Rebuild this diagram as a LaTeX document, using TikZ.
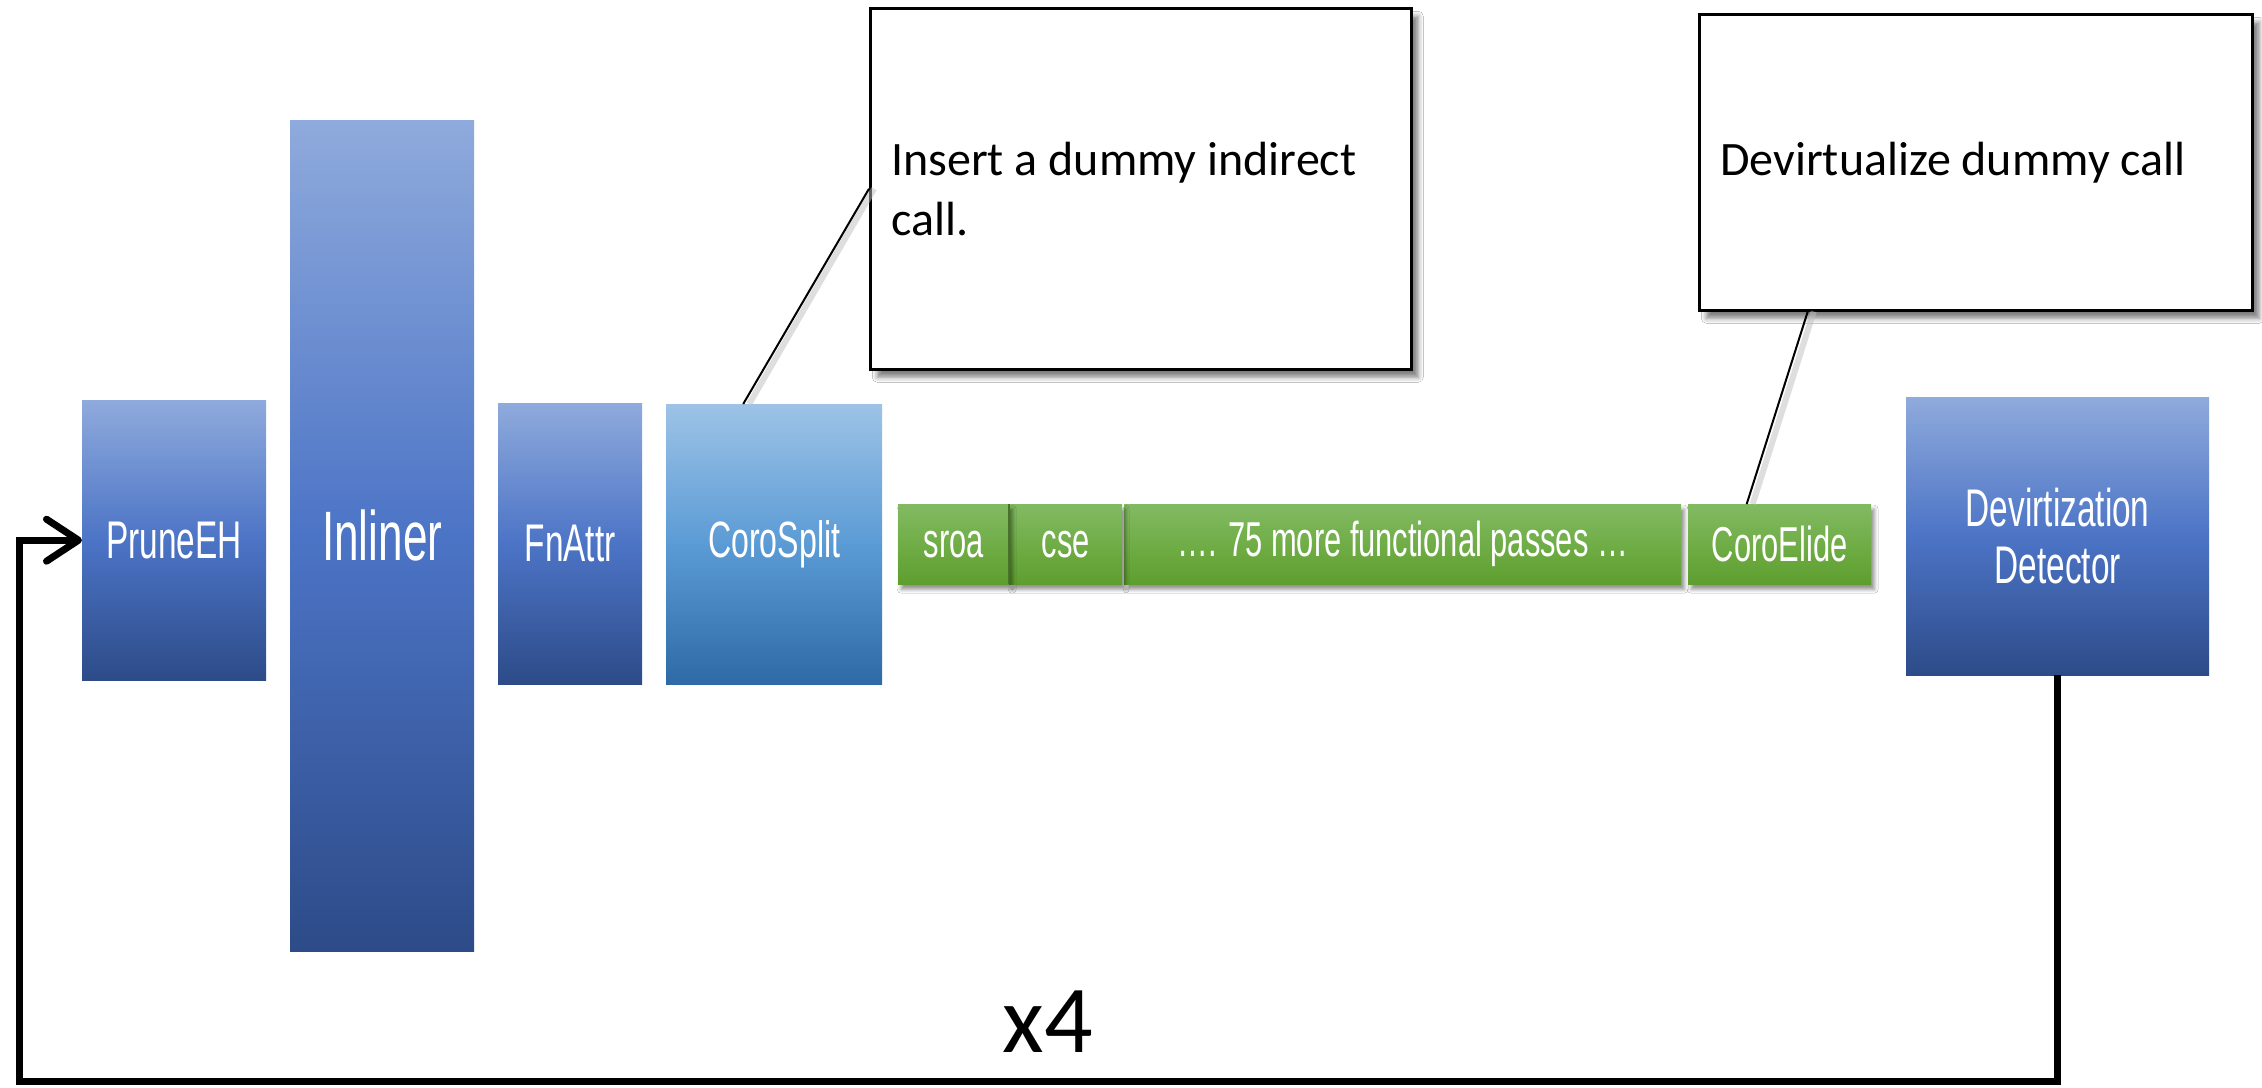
\documentclass[tikz,border=0pt]{standalone}
\usepackage{fontspec}
\usepackage{graphicx}
\usetikzlibrary{arrows.meta,shadows.blur}
\newfontfamily\condfont{Liberation Sans}
\newfontfamily\notefont{Carlito}
% narrow display face for the pass labels
\newcommand\narrow[1]{\scalebox{0.63}[1]{#1}}
\definecolor{bluetop}{RGB}{143,170,220}
\definecolor{bluemid}{RGB}{76,116,198}
\definecolor{bluebot}{RGB}{45,75,136}
\definecolor{cstop}{RGB}{157,195,230}
\definecolor{csmid}{RGB}{91,155,213}
\definecolor{csbot}{RGB}{46,106,166}
\definecolor{grtop}{RGB}{130,186,98}
\definecolor{grmid}{RGB}{112,173,71}
\definecolor{grbot}{RGB}{94,158,46}
\definecolor{grsep}{RGB}{70,115,40}
\begin{document}
\begin{tikzpicture}[x=1pt,y=-1pt,
  passbox/.style={rectangle, inner sep=0pt, anchor=north west, text=white,
    font=\condfont\fontsize{53}{57}\selectfont, align=center,
    top color=bluetop, bottom color=bluebot, middle color=bluemid},
  splitbox/.style={passbox, top color=cstop, bottom color=csbot, middle color=csmid,
    font=\condfont\fontsize{51}{55}\selectfont},
  fnbox/.style={rectangle, inner sep=0pt, anchor=north west, text=white,
    minimum height=80pt, font=\condfont\fontsize{49}{52}\selectfont,
    top color=grtop, bottom color=grbot, middle color=grmid,
    blur shadow={shadow xshift=3pt, shadow yshift=-5pt, shadow blur radius=4pt, shadow opacity=45}},
  notebox/.style={rectangle, anchor=north west, draw=black, line width=2.5pt, fill=white,
    inner xsep=21pt, inner ysep=0pt, align=flush left,
    font=\notefont\fontsize{48}{60}\selectfont,
    blur shadow={shadow xshift=7pt, shadow yshift=-8pt, shadow blur radius=5pt, shadow opacity=50}},
  noteline/.style={draw=black, line width=2pt},
  noteshade/.style={draw=black!25, line width=6pt, opacity=0.5},
  loopline/.style={draw=black, line width=7pt,
    -{Straight Barb[length=32pt, width=42pt, round]}}
]
\useasboundingbox (0,0) rectangle (2262,1087);
\fill[white] (0,0) rectangle (2262,1087);

% module passes
\node[passbox, minimum width=184pt, minimum height=280pt] (pe) at (82,400) {\narrow{PruneEH}};
\node[passbox, minimum width=184pt, minimum height=831pt,
      font=\condfont\fontsize{70}{70}\selectfont] (inl) at (290,120) {\narrow{Inliner}};
\node[passbox, minimum width=144pt, minimum height=281pt] (fa) at (498,403) {\narrow{FnAttr}};
\node[splitbox, minimum width=216pt, minimum height=280pt] (cs) at (666,404) {\narrow{CoroSplit}};
\node[passbox, minimum width=303pt, minimum height=278pt] (dd) at (1906,397)
  {\narrow{Devirtization}\\\narrow{Detector}};

% function pass pipeline
\node[fnbox, minimum width=557pt] (fp) at (1124,504) {\narrow{…. 75 more functional passes …}};
\node[fnbox, minimum width=113pt] (cse) at (1009,504) {\narrow{cse}};
\node[fnbox, minimum width=111pt] (sroa) at (898,504) {\narrow{sroa}};
\node[fnbox, minimum width=183pt] (ce) at (1688,504) {\narrow{CoroElide}};
\draw[grsep, line width=2pt] (sroa.north east) -- (sroa.south east);

% callouts
\node[notebox, text width=499pt, minimum height=361pt] (n1) at (869,7)
  {Insert a dummy indirect\\call.};
\node[notebox, text width=511pt, minimum height=296pt] (n2) at (1698,13)
  {Devirtualize dummy call};

\draw[noteshade] ([xshift=-25pt]cs.north) -- ([xshift=5pt]n1.west);
\draw[noteline] ([xshift=-31pt]cs.north) -- (n1.west);
\draw[noteshade] ([xshift=-27pt]ce.north) -- ([xshift=-162pt]n2.south);
\draw[noteline] ([xshift=-33pt]ce.north) -- ([xshift=-168pt]n2.south);

% repeat loop
\coordinate (lc) at (19,1081);
\draw[loopline] (dd.south) |- (lc) |- (pe.west);
\node[font=\notefont\fontsize{96}{96}\selectfont, inner sep=0pt] (rep) at (1048,1022) {x4};
\end{tikzpicture}
\end{document}
